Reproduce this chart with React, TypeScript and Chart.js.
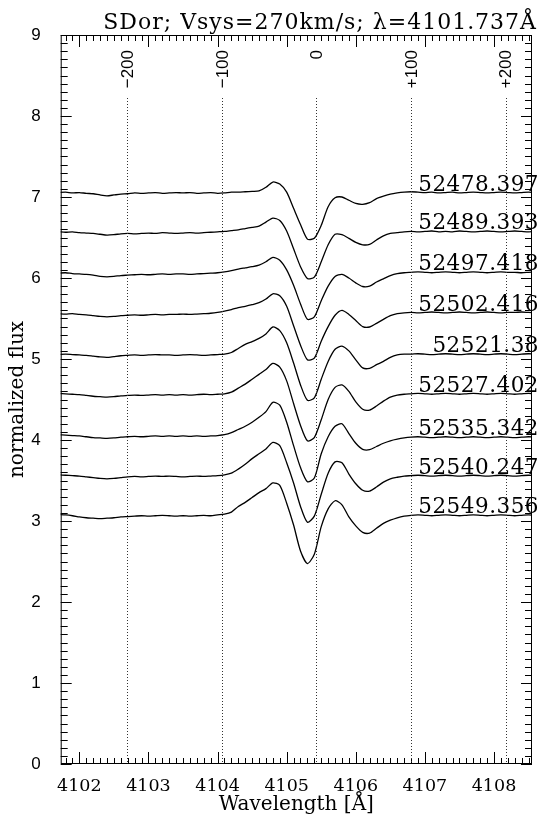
import React, { useEffect, useRef } from 'react';
import { Chart, registerables } from 'chart.js';

Chart.register(...registerables);

// wavelength sampling grid [Å]
const wavelengths: number[] = Array.from({ length: 70 }, (_, i) => Math.round((4101.7 + 0.1 * i) * 10) / 10);

const epochs = ['52478.397', '52489.393', '52497.418', '52502.416', '52521.38', '52527.402', '52535.342', '52540.247', '52549.356'];

const flux52478 = [
  7.055, 7.06, 7.05, 7.055, 7.045, 7.04, 7.025, 7.015, 7.025, 7.035,
  7.04, 7.05, 7.045, 7.05, 7.055, 7.045, 7.05, 7.055, 7.05, 7.055,
  7.045, 7.05, 7.055, 7.045, 7.05, 7.06, 7.06, 7.065, 7.07, 7.075,
  7.12, 7.185, 7.16, 7.06, 6.86, 6.66, 6.48, 6.49, 6.65, 6.88,
  6.99, 7.0, 6.96, 6.92, 6.91, 6.93, 6.98, 7.01, 7.035, 7.05,
  7.06, 7.065, 7.06, 7.055, 7.06, 7.05, 7.055, 7.06, 7.05, 7.055,
  7.06, 7.055, 7.05, 7.055, 7.06, 7.055, 7.05, 7.055, 7.06, 7.055,
];
const flux52489 = [
  6.57, 6.565, 6.57, 6.56, 6.555, 6.55, 6.54, 6.53, 6.535, 6.545,
  6.55, 6.545, 6.55, 6.555, 6.55, 6.56, 6.555, 6.55, 6.555, 6.56,
  6.555, 6.56, 6.565, 6.57, 6.575, 6.585, 6.595, 6.61, 6.625, 6.64,
  6.69, 6.74, 6.71, 6.58, 6.36, 6.14, 5.995, 6.01, 6.2, 6.41,
  6.54, 6.535, 6.49, 6.44, 6.41, 6.415, 6.47, 6.52, 6.55, 6.56,
  6.57, 6.575, 6.57, 6.575, 6.58, 6.57, 6.575, 6.57, 6.58, 6.575,
  6.57, 6.575, 6.58, 6.575, 6.57, 6.575, 6.58, 6.575, 6.57, 6.575,
];
const flux52497 = [
  6.06, 6.065, 6.055, 6.05, 6.045, 6.035, 6.02, 6.015, 6.02, 6.03,
  6.035, 6.04, 6.045, 6.04, 6.045, 6.05, 6.045, 6.05, 6.05, 6.045,
  6.05, 6.055, 6.06, 6.065, 6.075, 6.09, 6.11, 6.125, 6.14, 6.16,
  6.2, 6.255, 6.22, 6.1, 5.91, 5.68, 5.49, 5.52, 5.72, 5.9,
  6.02, 6.045, 6.0, 5.94, 5.895, 5.9, 5.95, 5.99, 6.03, 6.055,
  6.065, 6.07, 6.075, 6.07, 6.065, 6.07, 6.075, 6.07, 6.065, 6.07,
  6.075, 6.07, 6.065, 6.07, 6.075, 6.07, 6.07, 6.065, 6.07, 6.075,
];
const flux52502 = [
  5.56, 5.555, 5.56, 5.55, 5.545, 5.535, 5.525, 5.52, 5.525, 5.535,
  5.54, 5.545, 5.54, 5.545, 5.55, 5.545, 5.55, 5.55, 5.555, 5.55,
  5.555, 5.56, 5.565, 5.575, 5.59, 5.61, 5.635, 5.65, 5.67, 5.695,
  5.74, 5.805, 5.78, 5.65, 5.41, 5.17, 4.99, 5.01, 5.22, 5.4,
  5.54, 5.6, 5.55, 5.475, 5.4, 5.395, 5.44, 5.49, 5.535, 5.56,
  5.57, 5.575, 5.57, 5.575, 5.58, 5.575, 5.57, 5.575, 5.58, 5.575,
  5.57, 5.575, 5.58, 5.575, 5.57, 5.575, 5.575, 5.58, 5.575, 5.57,
];
const flux52521 = [
  5.055, 5.06, 5.055, 5.05, 5.045, 5.035, 5.025, 5.02, 5.03, 5.04,
  5.045, 5.05, 5.045, 5.05, 5.055, 5.05, 5.05, 5.045, 5.05, 5.055,
  5.05, 5.045, 5.05, 5.055, 5.06, 5.08, 5.13, 5.18, 5.215, 5.255,
  5.31, 5.395, 5.35, 5.2, 4.95, 4.68, 4.49, 4.52, 4.75, 4.97,
  5.12, 5.16, 5.1, 4.99, 4.89, 4.885, 4.93, 4.97, 5.02, 5.05,
  5.06, 5.06, 5.065, 5.06, 5.055, 5.06, 5.065, 5.06, 5.055, 5.06,
  5.065, 5.06, 5.055, 5.06, 5.065, 5.06, 5.055, 5.06, 5.065, 5.06,
];
const flux52527 = [
  4.575, 4.57, 4.565, 4.56, 4.55, 4.54, 4.535, 4.53, 4.535, 4.545,
  4.55, 4.555, 4.55, 4.555, 4.56, 4.555, 4.56, 4.555, 4.56, 4.555,
  4.56, 4.565, 4.56, 4.565, 4.57, 4.59, 4.64, 4.69, 4.75, 4.81,
  4.87, 4.945, 4.9, 4.73, 4.45, 4.18, 3.99, 4.03, 4.25, 4.5,
  4.65, 4.68, 4.6, 4.47, 4.38, 4.37, 4.42, 4.48, 4.53, 4.555,
  4.565, 4.57, 4.575, 4.57, 4.565, 4.57, 4.575, 4.57, 4.565, 4.57,
  4.575, 4.57, 4.565, 4.57, 4.575, 4.57, 4.565, 4.57, 4.575, 4.57,
];
const flux52535 = [
  4.065, 4.06, 4.055, 4.05, 4.04, 4.03, 4.025, 4.02, 4.025, 4.035,
  4.04, 4.045, 4.04, 4.045, 4.05, 4.045, 4.05, 4.045, 4.05, 4.045,
  4.05, 4.045, 4.05, 4.055, 4.065, 4.09, 4.13, 4.17, 4.22, 4.28,
  4.35, 4.465, 4.43, 4.22, 3.93, 3.66, 3.485, 3.53, 3.83, 4.04,
  4.17, 4.2, 4.08, 3.96, 3.885, 3.88, 3.92, 3.96, 3.99, 4.01,
  4.025, 4.035, 4.04, 4.035, 4.03, 4.035, 4.04, 4.035, 4.03, 4.035,
  4.04, 4.035, 4.03, 4.035, 4.04, 4.035, 4.03, 4.035, 4.04, 4.035,
];
const flux52540 = [
  3.57, 3.565, 3.56, 3.555, 3.545, 3.535, 3.525, 3.52, 3.525, 3.535,
  3.545, 3.55, 3.545, 3.55, 3.555, 3.55, 3.555, 3.55, 3.545, 3.55,
  3.555, 3.55, 3.555, 3.56, 3.57, 3.59, 3.64, 3.7, 3.77, 3.83,
  3.89, 3.97, 3.93, 3.72, 3.47, 3.18, 2.985, 3.06, 3.33, 3.59,
  3.73, 3.72, 3.58, 3.46, 3.38, 3.37, 3.42, 3.48, 3.52, 3.54,
  3.555, 3.56, 3.565, 3.56, 3.555, 3.56, 3.565, 3.56, 3.555, 3.56,
  3.565, 3.56, 3.555, 3.56, 3.565, 3.56, 3.555, 3.56, 3.565, 3.56,
];
const flux52549 = [
  3.08, 3.075, 3.065, 3.05, 3.04, 3.035, 3.03, 3.035, 3.04, 3.05,
  3.055, 3.06, 3.065, 3.06, 3.065, 3.07, 3.065, 3.06, 3.065, 3.06,
  3.065, 3.07, 3.065, 3.075, 3.085, 3.11, 3.18, 3.23, 3.29, 3.35,
  3.4, 3.47, 3.44, 3.22, 2.95, 2.63, 2.475, 2.59, 2.93, 3.15,
  3.25, 3.2, 3.05, 2.94, 2.86, 2.85, 2.91, 2.97, 3.01, 3.04,
  3.06, 3.07, 3.075, 3.07, 3.065, 3.07, 3.075, 3.07, 3.065, 3.07,
  3.075, 3.07, 3.065, 3.07, 3.075, 3.07, 3.065, 3.07, 3.075, 3.07,
];

const spectra = [flux52478, flux52489, flux52497, flux52502, flux52521, flux52527, flux52535, flux52540, flux52549];

const xTickValues = [4102, 4103, 4104, 4105, 4106, 4107, 4108];
const yTickValues = [0, 1, 2, 3, 4, 5, 6, 7, 8, 9];

const velocityMarks = [-200, -100, 0, 100, 200];
const velocityLabels = ['\u2212200', '\u2212100', '0', '+100', '+200'];
const restWavelength = 4101.737;
const vsys = 270;
const C_KMS = 299792.458;
const titleText = 'SDor; Vsys=270km/s; \u03bb=4101.737\u00c5';

const X_MIN = 4101.73;
const X_MAX = 4108.55;

const decorPlugin = {
  id: 'decor',
  afterDraw(chart: any) {
    const { ctx, chartArea } = chart;
    const { left, right, top, bottom } = chartArea;
    const xs = chart.scales.x;
    const ys = chart.scales.y;
    ctx.save();
    ctx.strokeStyle = '#000';
    ctx.fillStyle = '#000';
    ctx.lineWidth = 1;
    // frame
    ctx.strokeRect(left + 0.5, top + 0.5, right - left - 1, bottom - top - 1);
    // x ticks (bottom and top)
    ctx.beginPath();
    for (let k = Math.ceil(X_MIN * 10); k <= Math.floor(X_MAX * 10); k++) {
      const px = Math.round(xs.getPixelForValue(k / 10)) + 0.5;
      const len = k % 10 === 0 ? 12 : 6;
      ctx.moveTo(px, bottom);
      ctx.lineTo(px, bottom - len);
      ctx.moveTo(px, top);
      ctx.lineTo(px, top + len);
    }
    // y ticks (left and right)
    for (let k = 0; k <= 90; k++) {
      const py = Math.round(ys.getPixelForValue(k / 10)) + 0.5;
      const len = k % 10 === 0 ? 11 : 7;
      ctx.moveTo(left, py);
      ctx.lineTo(left + len, py);
      ctx.moveTo(right, py);
      ctx.lineTo(right - len, py);
    }
    ctx.stroke();
    // velocity dotted lines and labels
    ctx.setLineDash([1, 2]);
    ctx.strokeStyle = '#333';
    velocityMarks.forEach((v) => {
      const lam = restWavelength * (1 + (vsys + v) / C_KMS);
      const px = Math.round(xs.getPixelForValue(lam)) + 0.5;
      ctx.beginPath();
      ctx.moveTo(px, 98);
      ctx.lineTo(px, bottom);
      ctx.stroke();
    });
    ctx.setLineDash([]);
    ctx.font = '17px "Liberation Sans", Arial, sans-serif';
    ctx.textAlign = 'right';
    ctx.textBaseline = 'middle';
    velocityMarks.forEach((v, i) => {
      const lam = restWavelength * (1 + (vsys + v) / C_KMS);
      const px = xs.getPixelForValue(lam);
      ctx.save();
      ctx.translate(px + 1, 50);
      ctx.rotate(-Math.PI / 2);
      ctx.fillText(velocityLabels[i], 0, 0);
      ctx.restore();
    });
    // epoch labels
    ctx.font = '21.5px "DejaVu Serif", serif';
    (ctx as any).letterSpacing = '0.5px';
    ctx.textAlign = 'right';
    ctx.textBaseline = 'alphabetic';
    spectra.forEach((s, i) => {
      const py = ys.getPixelForValue(s[s.length - 1]);
      ctx.fillText(epochs[i], 539, py - 2);
    });
    // title
    (ctx as any).letterSpacing = '1px';
    ctx.font = '22px "DejaVu Serif", serif';
    ctx.fillText(titleText, 537, 29);
    (ctx as any).letterSpacing = '0px';
    ctx.restore();
  },
};

export default function App() {
  const canvasRef = useRef<HTMLCanvasElement | null>(null);

  useEffect(() => {
    if (!canvasRef.current) return;
    const datasets = spectra.map((s, i) => ({
      label: epochs[i],
      data: wavelengths.map((w, j) => ({ x: w, y: s[j] })),
      borderColor: '#000',
      borderWidth: 1.3,
      pointRadius: 0,
      tension: 0.25,
      fill: false,
    }));
    const chart = new Chart(canvasRef.current, {
      type: 'line',
      data: { datasets },
      options: {
        responsive: false,
        animation: false,
        devicePixelRatio: 1,
        layout: { padding: { top: 35, right: 5, left: 0, bottom: 0 } },
        plugins: {
          legend: { display: false },
          tooltip: { enabled: false },
          title: { display: false },
        },
        scales: {
          x: {
            type: 'linear',
            min: X_MIN,
            max: X_MAX,
            grid: { display: false },
            border: { display: false },
            afterBuildTicks: (s: any) => {
              s.ticks = xTickValues.map((v) => ({ value: v }));
            },
            afterFit: (s: any) => {
              s.height = 52;
              s.paddingLeft = 0;
              s.paddingRight = 0;
            },
            ticks: {
              color: '#000',
              padding: 4,
              maxRotation: 0,
              autoSkip: false,
              font: { family: '"DejaVu Serif", serif', size: 17.5 },
              callback: (v: any) => String(v),
            },
            title: {
              display: true,
              text: 'Wavelength [\u00c5]',
              color: '#000',
              font: { family: '"DejaVu Serif", serif', size: 20 },
              padding: { top: 0, bottom: -1 },
            },
          },
          y: {
            type: 'linear',
            min: 0,
            max: 9,
            grid: { display: false },
            border: { display: false },
            afterBuildTicks: (s: any) => {
              s.ticks = yTickValues.map((v) => ({ value: v }));
            },
            afterFit: (s: any) => {
              s.width = 60.7;
              s.paddingTop = 0;
              s.paddingBottom = 0;
            },
            ticks: {
              color: '#000',
              padding: 12,
              font: { family: '"Liberation Sans", Arial, sans-serif', size: 17 },
              callback: (v: any) => String(v),
            },
            title: {
              display: true,
              text: 'normalized flux',
              color: '#000',
              font: { family: '"DejaVu Serif", serif', size: 20 },
              padding: { top: 6, bottom: 0 },
            },
          },
        },
      } as any,
      plugins: [decorPlugin],
    });
    return () => chart.destroy();
  }, []);

  return (
    <div style={{ position: 'absolute', left: 0, top: 0, width: 537, height: 816, background: '#fff' }}>
      <canvas ref={canvasRef} width={537} height={816} style={{ display: 'block' }} />
    </div>
  );
}
